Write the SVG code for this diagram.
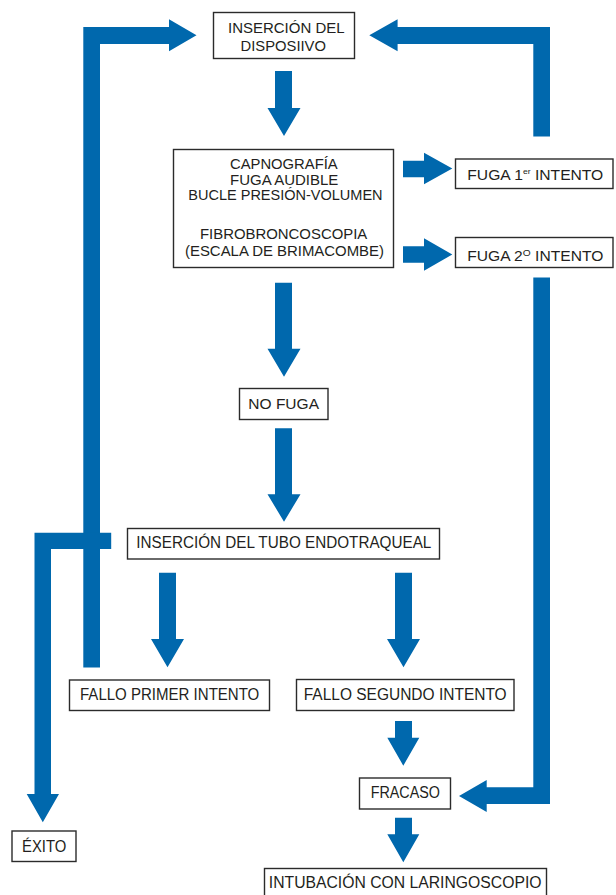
<svg xmlns="http://www.w3.org/2000/svg" width="616" height="895" viewBox="0 0 616 895">
<style>
.box{fill:#fff;stroke:#2b2b2b;stroke-width:1.4}
.t{font-family:"Liberation Sans",Arial,sans-serif;font-size:15.5px;fill:#231f20}
.s{font-size:14.5px}
.l{font-size:16px}
.arr{fill:#0068ad;stroke:none}
</style>
<rect width="616" height="895" fill="#fff"/>
<g id="connectors">
<!-- top to main -->
<path class="arr" d="M275 71H292V108H300.5L284 136L267.5 108H275Z"/>
<!-- main to FUGA 1 -->
<path class="arr" d="M403 160.7H424V152.7L452.3 168.5L424 184.3V177.3H403Z"/>
<!-- main to FUGA 2 -->
<path class="arr" d="M403 246.2H424V238.3L452.3 254.5L424 270.7V262.8H403Z"/>
<!-- FUGA 1 back to top -->
<path class="arr" d="M533.3 136.5V44H397.6V51.3L369.3 35.3L397.6 19.3V27H550V136.5Z"/>
<!-- main to NO FUGA -->
<path class="arr" d="M275 282.7H292V348.7H300.5L284 376.7L267.5 348.7H275Z"/>
<!-- NO FUGA to TUBO -->
<path class="arr" d="M275 428.3H292V494.3H300.5L284 521.7L267.5 494.3H275Z"/>
<!-- TUBO to FALLO 1 -->
<path class="arr" d="M159 572.7H176V639H184L167.5 667.3L151 639H159Z"/>
<!-- TUBO to FALLO 2 -->
<path class="arr" d="M395 572.7H412V639H420L403.5 667.3L387 639H395Z"/>
<!-- FALLO 1 back to top -->
<path class="arr" d="M83.3 667.5V27H169V19.3L196.5 35.3L169 51.3V44H100V667.5Z"/>
<!-- TUBO to EXITO -->
<path class="arr" d="M111.2 532.7V549H51V794H59L42.8 822.3L26.7 794H34.5V532.7Z"/>
<!-- FUGA 2 to FRACASO -->
<path class="arr" d="M533.3 277.5H550V804H486.7V812L459 796L486.7 780V787.3H533.3Z"/>
<!-- FALLO 2 to FRACASO -->
<path class="arr" d="M395 721H412V737.7H419.3L403.3 765.7L387.3 737.7H395Z"/>
<!-- FRACASO to INTUBACION -->
<path class="arr" d="M395 817.7H412V834.3H419.3L403.3 862.3L387.3 834.3H395Z"/>
</g>
<g id="n-insercion">
<rect class="box" x="213.5" y="12.5" width="141" height="46"/>
<text class="t" x="228" y="32.5" textLength="116.6" lengthAdjust="spacingAndGlyphs">INSERCIÓN DEL</text>
<text class="t" x="240.5" y="50.5" textLength="85.5" lengthAdjust="spacingAndGlyphs">DISPOSIIVO</text>
</g>
<g id="n-pruebas">
<rect class="box" x="173.5" y="149.5" width="220" height="118"/>
<text class="t s" x="230" y="169.3" textLength="107.7" lengthAdjust="spacingAndGlyphs">CAPNOGRAFÍA</text>
<text class="t s" x="230" y="185" textLength="108.3" lengthAdjust="spacingAndGlyphs">FUGA AUDIBLE</text>
<text class="t s" x="188.3" y="200.3" textLength="194.3" lengthAdjust="spacingAndGlyphs">BUCLE PRESIÓN-VOLUMEN</text>
<text class="t s" x="200" y="239" textLength="167.3" lengthAdjust="spacingAndGlyphs">FIBROBRONCOSCOPIA</text>
<text class="t s" x="185" y="255.5" textLength="199" lengthAdjust="spacingAndGlyphs">(ESCALA DE BRIMACOMBE)</text>
</g>
<g id="n-fuga1">
<rect class="box" x="455.5" y="159" width="157.5" height="29.5"/>
<text class="t s" x="467.3" y="180" textLength="136" lengthAdjust="spacingAndGlyphs">FUGA 1<tspan font-size="8" dy="-6">er</tspan><tspan dy="6"> INTENTO</tspan></text>
</g>
<g id="n-fuga2">
<rect class="box" x="455.5" y="237.5" width="157.5" height="30"/>
<text class="t s" x="467.3" y="260.7" textLength="136" lengthAdjust="spacingAndGlyphs">FUGA 2<tspan font-size="9.5" dy="-4.5">O</tspan><tspan dy="4.5"> INTENTO</tspan></text>
</g>
<g id="n-nofuga">
<rect class="box" x="239.5" y="388.5" width="88.5" height="31"/>
<text class="t" x="248.3" y="409" textLength="70.7" lengthAdjust="spacingAndGlyphs">NO FUGA</text>
</g>
<g id="n-tubo">
<rect class="box" x="127.5" y="528.5" width="312" height="30.5"/>
<text class="t l" x="136.3" y="548.3" textLength="295" lengthAdjust="spacingAndGlyphs">INSERCIÓN DEL TUBO ENDOTRAQUEAL</text>
</g>
<g id="n-fallo1">
<rect class="box" x="69.5" y="680" width="200" height="30.5"/>
<text class="t l" x="80" y="700" textLength="179.3" lengthAdjust="spacingAndGlyphs">FALLO PRIMER INTENTO</text>
</g>
<g id="n-fallo2">
<rect class="box" x="296.5" y="679.5" width="217.5" height="31"/>
<text class="t l" x="303.7" y="700" textLength="203" lengthAdjust="spacingAndGlyphs">FALLO SEGUNDO INTENTO</text>
</g>
<g id="n-fracaso">
<rect class="box" x="359.5" y="778" width="91" height="31"/>
<text class="t l" x="370.7" y="798.3" textLength="69.3" lengthAdjust="spacingAndGlyphs">FRACASO</text>
</g>
<g id="n-exito">
<rect class="box" x="12" y="831" width="64" height="30.5"/>
<text class="t l" x="22" y="852.3" textLength="44.3" lengthAdjust="spacingAndGlyphs">ÉXITO</text>
</g>
<g id="n-intubacion">
<rect class="box" x="264.5" y="868.5" width="282" height="40"/>
<text class="t l" x="268.8" y="888.3" textLength="272.7" lengthAdjust="spacingAndGlyphs">INTUBACIÓN CON LARINGOSCOPIO</text>
</g>
</svg>
